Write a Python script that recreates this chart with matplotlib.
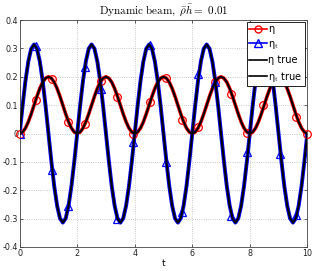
import matplotlib
matplotlib.use("Agg")
import matplotlib.pyplot as plt
from matplotlib.lines import Line2D
import numpy as np

# time grid of the smooth curves (step 0.1)
t_fine = np.arange(0, 101) / 10.0

# eta true (0 .. 0.2, period 2)
eta_true = [
    0.0, 0.005, 0.019, 0.041, 0.069, 0.1, 0.131, 0.159, 0.181, 0.195,
    0.2, 0.195, 0.181, 0.159, 0.131, 0.1, 0.069, 0.041, 0.019, 0.005,
    0.0, 0.005, 0.019, 0.041, 0.069, 0.1, 0.131, 0.159, 0.181, 0.195,
    0.2, 0.195, 0.181, 0.159, 0.131, 0.1, 0.069, 0.041, 0.019, 0.005,
    0.0, 0.005, 0.019, 0.041, 0.069, 0.1, 0.131, 0.159, 0.181, 0.195,
    0.2, 0.195, 0.181, 0.159, 0.131, 0.1, 0.069, 0.041, 0.019, 0.005,
    0.0, 0.005, 0.019, 0.041, 0.069, 0.1, 0.131, 0.159, 0.181, 0.195,
    0.2, 0.195, 0.181, 0.159, 0.131, 0.1, 0.069, 0.041, 0.019, 0.005,
    0.0, 0.005, 0.019, 0.041, 0.069, 0.1, 0.131, 0.159, 0.181, 0.195,
    0.2, 0.195, 0.181, 0.159, 0.131, 0.1, 0.069, 0.041, 0.019, 0.005,
    0.0,
]

# eta_t true (amplitude ~0.314)
eta_t_true = [
    0.0, 0.097, 0.185, 0.254, 0.299, 0.314, 0.299, 0.254, 0.185, 0.097,
    0.0, -0.097, -0.185, -0.254, -0.299, -0.314, -0.299, -0.254, -0.185, -0.097,
    0.0, 0.097, 0.185, 0.254, 0.299, 0.314, 0.299, 0.254, 0.185, 0.097,
    0.0, -0.097, -0.185, -0.254, -0.299, -0.314, -0.299, -0.254, -0.185, -0.097,
    0.0, 0.097, 0.185, 0.254, 0.299, 0.314, 0.299, 0.254, 0.185, 0.097,
    0.0, -0.097, -0.185, -0.254, -0.299, -0.314, -0.299, -0.254, -0.185, -0.097,
    0.0, 0.097, 0.185, 0.254, 0.299, 0.314, 0.299, 0.254, 0.185, 0.097,
    0.0, -0.097, -0.185, -0.254, -0.299, -0.314, -0.299, -0.254, -0.185, -0.097,
    0.0, 0.097, 0.185, 0.254, 0.299, 0.314, 0.299, 0.254, 0.185, 0.097,
    0.0, -0.097, -0.185, -0.254, -0.299, -0.314, -0.299, -0.254, -0.185, -0.097,
    0.0,
]

# sampled (numerical) solution at the marker times
t_marks = [0.0, 0.565, 1.13, 1.695, 2.26, 2.825, 3.39, 3.955, 4.52, 5.085,
           5.65, 6.215, 6.78, 7.345, 7.91, 8.475, 9.04, 9.605, 10.0]
eta_marks = [0.0, 0.118, 0.192, 0.04, 0.032, 0.186, 0.13, 0.0, 0.11, 0.195,
             0.048, 0.024, 0.18, 0.139, 0.002, 0.10, 0.198, 0.057, 0.0]
eta_t_marks = [0.0, 0.309, -0.129, -0.254, 0.233, 0.157, -0.302, -0.029, 0.312, -0.101,
               -0.276, 0.209, 0.18, -0.29, -0.064, 0.313, -0.073, -0.287]

xticks = [0, 2, 4, 6, 8, 10]
yticks = [-0.4, -0.3, -0.2, -0.1, 0, 0.1, 0.2, 0.3, 0.4]
ytick_labels = ["-0.4", "-0.3", "-0.2", "-0.1", "0", "0.1", "0.2", "0.3", "0.4"]

plt.rcParams["mathtext.fontset"] = "cm"
plt.rcParams["font.family"] = ["DejaVu Sans"]

fig = plt.figure(figsize=(3.14, 2.71), dpi=100, facecolor="white")
ax = fig.add_axes([0.0627, 0.0886, 0.916, 0.8374])

ax.plot(t_fine, eta_true, color="red", lw=2.6, solid_capstyle="butt", zorder=2)
ax.plot(t_marks, eta_marks, ls="none", marker="o", ms=5.5, mfc="none",
        mec="red", mew=0.9, zorder=3, clip_on=False)
ax.plot(t_fine, eta_t_true, color="blue", lw=2.8, solid_capstyle="butt", zorder=2)
ax.plot(t_marks[:len(eta_t_marks)], eta_t_marks, ls="none", marker="^", ms=6,
        mfc="none", mec="blue", mew=0.9, zorder=3)
ax.plot(t_fine, eta_true, color="black", lw=1.5, zorder=4)
ax.plot(t_fine, eta_t_true, color="black", lw=1.5, zorder=4)

ax.set_xlim(0, 10)
ax.set_ylim(-0.4, 0.4)
ax.set_xticks(xticks)
ax.set_yticks(yticks)
ax.set_yticklabels(ytick_labels)
ax.tick_params(direction="in", length=2.5, width=0.5, labelsize=5.8,
               top=True, right=True, pad=1.2, colors="#222222")
ax.grid(True, ls=":", color="#bbbbbb", lw=0.6)
for s in ax.spines.values():
    s.set_linewidth(0.6)
    s.set_color("#444444")

ax.set_xlabel("t", fontsize=6.5, labelpad=1)
ax.set_title(r"$\mathrm{Dynamic\ beam,}\ \bar{\rho}\bar{h}\mathrm{=\ 0.01}$",
             fontsize=8, pad=4)

handles = [
    Line2D([], [], color="red", lw=1.2, marker="o", ms=5, mfc="none", mec="red"),
    Line2D([], [], color="blue", lw=1.2, marker="^", ms=5.5, mfc="none", mec="blue"),
    Line2D([], [], color="black", lw=1.2),
    Line2D([], [], color="black", lw=1.2),
]
labels = ["\u03b7", "\u03b7$_\\mathrm{t}$", "\u03b7 true", "\u03b7$_\\mathrm{t}$ true"]
leg = ax.legend(handles, labels, loc="upper right", fontsize=7, frameon=True,
                fancybox=False, framealpha=1, edgecolor="black",
                borderpad=0.25, labelspacing=0.45, handlelength=1.8,
                handletextpad=0.15, borderaxespad=0.2)
leg.get_frame().set_linewidth(0.6)
leg.set_zorder(10)

fig.savefig("out.png", dpi=100)
